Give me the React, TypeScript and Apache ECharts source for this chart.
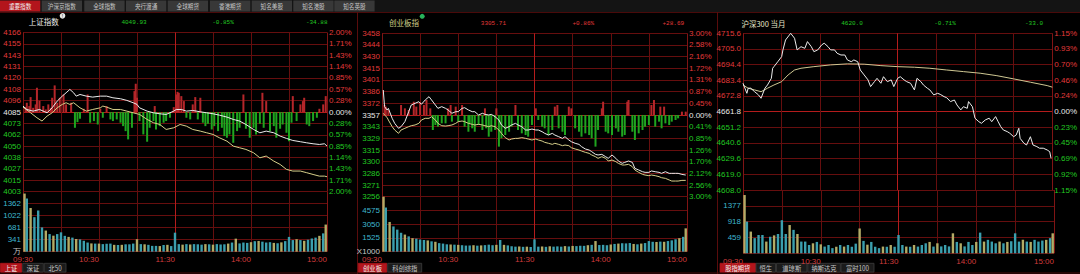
import React, { useEffect, useRef } from "react";
import * as echarts from "echarts";

// ---------- shared ----------
const timeTicks = ["09:30", "", "10:30", "", "11:30", "", "14:00", "", "15:00"];
const topTabs = ["重要指数", "沪深京指数", "全球指数", "央行渡通", "全球期货", "香港期货", "知名美股", "知名港股", "知名英股"];

// ---------- panel 1: 上证指数 ----------
const shPrev = 4084.81;
const shHeader = ["上证指数", "4049.93", "-0.85%", "-34.88"];
const shLeftLabels = ["4166", "4155", "4143", "4131", "4120", "4108", "4096", "4085", "4073", "4062", "4050", "4038", "4027", "4015", "4003"];
const shRightLabels = ["2.00%", "1.71%", "1.43%", "1.14%", "0.85%", "0.57%", "0.28%", "0.00%", "0.28%", "0.57%", "0.85%", "1.14%", "1.43%", "1.71%", "2.00%"];
const shVolLabels = ["万", "341", "681", "1022", "1362", ""];
const shBottomTabs = ["上证", "深证", "北50"];
const shPriceT = [0, 3, 8, 13, 19, 23, 27, 31, 34, 37, 40, 42, 45, 50, 55, 61, 66, 71, 77, 82, 87, 90, 92, 98, 103, 108, 113, 119, 121, 125, 129, 134, 140, 145, 150, 155, 161, 166, 171, 176, 182, 187, 192, 198, 203, 208, 213, 219, 224, 229, 234, 238, 240];
const shPrice = [4091.0, 4087.5, 4085.8, 4087.5, 4084.1, 4089.2, 4096.1, 4101.2, 4104.6, 4108.1, 4104.6, 4101.2, 4102.9, 4101.2, 4100.2, 4101.2, 4101.2, 4099.5, 4098.5, 4096.8, 4094.4, 4092.7, 4089.2, 4085.8, 4084.1, 4083.1, 4082.4, 4085.8, 4087.5, 4087.5, 4085.8, 4086.5, 4085.1, 4084.1, 4083.1, 4081.7, 4079.7, 4077.3, 4075.6, 4072.1, 4067.0, 4063.6, 4065.3, 4063.6, 4060.2, 4057.8, 4055.7, 4054.4, 4053.3, 4052.3, 4051.6, 4052.3, 4050.0];
const shAvgT = [0, 6, 11, 15, 19, 23, 27, 31, 34, 37, 40, 45, 50, 55, 61, 63, 66, 71, 77, 82, 87, 92, 98, 103, 108, 113, 119, 124, 129, 134, 140, 145, 150, 155, 161, 166, 171, 176, 182, 187, 192, 198, 203, 208, 213, 219, 224, 229, 234, 238, 240];
const shAvg = [4089.9, 4084.1, 4079.0, 4075.6, 4080.7, 4084.1, 4089.2, 4092.7, 4094.4, 4092.7, 4094.4, 4089.2, 4085.8, 4087.5, 4089.2, 4091.0, 4089.9, 4087.5, 4087.5, 4085.8, 4084.1, 4082.4, 4077.3, 4073.9, 4072.1, 4067.0, 4068.7, 4072.1, 4070.4, 4067.0, 4065.3, 4063.6, 4061.9, 4058.5, 4055.0, 4049.9, 4048.2, 4046.5, 4043.1, 4037.9, 4039.7, 4034.5, 4031.1, 4026.0, 4024.3, 4024.3, 4022.6, 4020.8, 4019.1, 4019.1, 4018.5];
const shBarT = [2, 3, 5, 6, 8, 10, 11, 13, 16, 18, 20, 22, 23, 25, 27, 29, 32, 34, 38, 41, 43, 45, 48, 51, 53, 56, 59, 61, 63, 66, 69, 71, 74, 77, 79, 81, 83, 86, 88, 89, 90, 92, 95, 98, 100, 103, 104, 105, 108, 111, 113, 116, 119, 121, 122, 123, 125, 127, 129, 132, 134, 136, 138, 140, 142, 144, 146, 149, 151, 154, 157, 159, 161, 163, 166, 169, 171, 174, 176, 179, 182, 184, 187, 189, 190, 192, 195, 198, 200, 203, 205, 208, 210, 212, 213, 216, 219, 221, 222, 224, 226, 229, 232, 234, 237, 239];
const shBar = [5.1, 9.6, 6.2, 15.4, 4.4, 7.9, 25.0, 11.6, 6.2, 2.7, 7.9, 4.4, 14.7, 27.4, 9.6, 14.7, 18.1, 7.9, 9.6, -16.1, -10.3, -6.8, 3.4, 18.1, -10.9, -9.2, -12.7, 3.4, -5.8, 6.2, -7.5, -9.2, -7.5, -10.9, -14.4, -19.5, -28.0, -16.1, 21.5, 29.1, 14.7, -9.2, -22.9, -30.4, -16.1, -9.2, 6.2, -17.8, -14.4, -10.9, -9.2, -5.8, 5.1, 18.1, 20.8, 19.8, 16.4, 11.3, -5.8, -7.5, 7.9, 15.4, -7.5, 14.7, -10.9, -14.4, -12.0, -17.8, -14.4, -19.5, -16.1, -24.6, -26.3, -22.9, -31.5, -19.5, -16.1, 18.1, -17.1, -26.3, -16.1, -22.9, -12.0, 19.8, -16.1, 11.3, -19.5, -14.4, -26.3, -17.1, -12.7, -21.2, -29.8, -10.9, 16.4, -9.2, 7.9, 11.3, 14.7, -12.7, -14.4, -9.2, -5.8, 3.4, 7.9, 16.4];
const shVol = [1650, 1510, 1240, 980, 1170, 690, 600, 500, 455, 500, 550, 450, 420, 400, 360, 350, 310, 260, 235, 230, 230, 215, 225, 230, 195, 190, 195, 210, 210, 230, 355, 215, 210, 195, 165, 165, 160, 190, 195, 160, 540, 215, 200, 215, 205, 215, 210, 200, 215, 210, 200, 215, 205, 210, 230, 260, 370, 235, 260, 250, 270, 300, 305, 285, 260, 270, 250, 240, 265, 300, 420, 330, 355, 330, 310, 340, 375, 400, 450, 520, 770];

// ---------- panel 2: 创业板指 ----------
const cyPrev = 3357;
const cyHeader = ["创业板指", "3305.71", "+0.86%", "+28.69"];
const cyLeftLabels = ["3458", "3444", "3430", "3415", "3401", "3386", "3372", "3357", "3343", "3329", "3315", "3300", "3286", "3271", "3256"];
const cyRightLabels = ["3.00%", "2.58%", "2.16%", "1.72%", "1.31%", "0.87%", "0.45%", "0.00%", "0.41%", "0.85%", "1.26%", "1.70%", "2.12%", "2.56%", "3.00%"];
const cyVolLabels = ["X1000", "1525", "3050", "4575", ""];
const cyBottomTabs = ["创业板", "科创综指"];
const cyT = [1, 2, 4, 5, 8, 10, 13, 15, 18, 21, 23, 26, 29, 31, 34, 37, 39, 42, 44, 47, 50, 52, 55, 58, 60, 63, 65, 68, 71, 73, 76, 79, 81, 84, 86, 89, 92, 94, 97, 100, 102, 105, 107, 110, 113, 115, 118, 121, 123, 126, 128, 131, 134, 136, 139, 142, 144, 147, 149, 152, 155, 157, 160, 163, 165, 168, 170, 173, 176, 178, 181, 184, 186, 189, 191, 194, 197, 199, 202, 205, 207, 210, 212, 215, 218, 220, 223, 226, 228, 231, 233, 236, 239];
const cyPrice = [3387.8, 3367.3, 3363.2, 3365.2, 3352.9, 3346.7, 3340.6, 3342.6, 3348.8, 3361.1, 3369.3, 3371.4, 3373.4, 3370.2, 3375.5, 3379.6, 3375.5, 3369.3, 3365.2, 3367.3, 3365.2, 3363.2, 3359.1, 3361.1, 3361.1, 3365.2, 3366.0, 3363.2, 3361.1, 3361.1, 3357.0, 3359.1, 3357.8, 3357.0, 3357.8, 3354.9, 3350.8, 3344.7, 3340.6, 3342.6, 3344.7, 3346.7, 3344.7, 3342.6, 3338.5, 3338.5, 3339.7, 3338.5, 3338.5, 3336.4, 3334.4, 3332.3, 3334.4, 3332.3, 3330.3, 3328.2, 3330.3, 3326.2, 3324.1, 3322.1, 3320.8, 3318.0, 3315.1, 3313.8, 3311.8, 3308.5, 3307.7, 3308.5, 3305.6, 3303.6, 3307.7, 3303.6, 3300.3, 3297.4, 3298.6, 3300.3, 3298.6, 3291.2, 3289.2, 3287.1, 3286.3, 3286.3, 3288.0, 3287.1, 3286.3, 3285.1, 3287.1, 3285.1, 3285.1, 3285.1, 3285.1, 3283.8, 3283.0];
const cyAvg = [3359.1, 3357.0, 3354.0, 3350.8, 3342.6, 3338.5, 3334.4, 3338.5, 3340.6, 3342.6, 3343.8, 3344.7, 3346.7, 3350.8, 3352.9, 3352.9, 3354.9, 3350.8, 3346.7, 3343.8, 3343.4, 3343.8, 3344.7, 3346.7, 3348.8, 3349.6, 3348.8, 3346.7, 3345.5, 3344.7, 3345.5, 3344.7, 3343.8, 3342.6, 3343.8, 3342.6, 3338.5, 3334.4, 3329.1, 3326.2, 3327.4, 3328.2, 3328.2, 3329.1, 3328.2, 3327.4, 3326.2, 3327.4, 3326.2, 3324.9, 3323.3, 3322.1, 3320.8, 3322.1, 3320.8, 3319.2, 3320.0, 3319.2, 3316.7, 3315.1, 3313.8, 3312.6, 3311.0, 3309.7, 3307.7, 3305.6, 3303.6, 3305.6, 3303.6, 3300.3, 3301.5, 3299.5, 3297.4, 3295.4, 3295.4, 3296.2, 3293.3, 3289.2, 3286.3, 3283.8, 3283.0, 3282.2, 3283.0, 3282.2, 3281.0, 3279.7, 3278.9, 3276.9, 3275.6, 3275.6, 3275.6, 3276.4, 3276.4];
const cyBarT = [2, 3, 5, 15, 18, 21, 25, 27, 30, 33, 35, 38, 40, 42, 44, 47, 50, 52, 54, 55, 58, 60, 63, 65, 68, 69, 71, 73, 76, 79, 81, 82, 84, 86, 89, 90, 92, 94, 97, 100, 102, 105, 107, 110, 113, 115, 118, 121, 123, 126, 128, 131, 134, 136, 138, 139, 142, 144, 147, 149, 152, 155, 157, 160, 163, 165, 168, 170, 173, 174, 176, 178, 181, 184, 186, 189, 191, 193, 194, 197, 199, 202, 205, 207, 210, 212, 214, 215, 218, 219, 220, 222, 223, 226, 228, 231, 233, 236, 239];
const cyBar = [12.3, 10.3, 6.2, 12.3, 8.2, 6.2, 16.4, 10.3, 15.6, 12.3, 18.5, 8.2, -18.5, -12.3, -14.4, -10.3, -10.3, 8.2, 12.3, -8.2, 10.3, -8.2, 12.3, -14.4, -20.6, -10.3, -16.4, -20.6, -12.3, -18.5, 8.2, -16.4, -26.7, -20.6, -18.5, 8.2, -39.0, -28.8, -24.7, -20.6, -14.4, 12.3, -18.5, -22.6, -24.7, -26.7, -12.3, 8.2, -6.2, -14.4, -16.4, -24.7, -18.5, 10.3, 12.3, -16.4, -20.6, -24.7, 10.3, 8.2, -16.4, -20.6, -26.7, -22.6, -24.7, -28.8, -39.0, -18.5, 8.2, 16.4, -20.6, -22.6, -24.7, -16.4, -20.6, -26.7, -24.7, 16.4, 18.5, -20.6, -30.8, -22.6, -18.5, -14.4, -12.3, 12.3, 18.5, -14.4, -8.2, 10.3, -16.4, 10.3, -10.3, -12.3, -8.2, -6.2, -4.1, 4.1, 4.1];
const cyVol = [6100, 4900, 3300, 2800, 2450, 2100, 1900, 1700, 1500, 1450, 1350, 1300, 1250, 1150, 1100, 950, 900, 820, 800, 780, 760, 720, 680, 690, 720, 670, 700, 730, 780, 720, 760, 1300, 760, 700, 600, 560, 580, 540, 560, 520, 1370, 560, 580, 540, 600, 560, 590, 560, 620, 580, 640, 620, 660, 650, 720, 760, 1180, 740, 760, 720, 800, 860, 900, 940, 920, 960, 860, 820, 900, 960, 1180, 1100, 1080, 1120, 1100, 1180, 1260, 1380, 1500, 1650, 2590];

// ---------- panel 3: 沪深300 当月 ----------
const ifPrev = 4661.8;
const ifHeader = ["沪深300 当月", "4620.0", "-0.71%", "-33.0"];
const ifLeftLabels = ["4715.6", "4705.0", "4694.4", "4683.4", "4672.8", "4661.8", "4651.2", "4640.6", "4629.6", "4619.0", "4608.0"];
const ifRightLabels = ["1.15%", "0.93%", "0.70%", "0.46%", "0.24%", "0.00%", "0.23%", "0.45%", "0.69%", "0.92%", "1.15%"];
const ifVolLabels = ["", "459", "918", "1377", ""];
const ifBottomTabs = ["股指期货", "恒生", "道琼斯", "纳斯达克", "富时100"];
const ifT = [0, 3, 4, 6, 9, 12, 14, 17, 19, 22, 23, 24, 27, 30, 31, 33, 37, 40, 42, 45, 48, 50, 53, 55, 58, 61, 63, 66, 68, 71, 73, 76, 79, 81, 84, 86, 89, 91, 94, 97, 99, 102, 104, 107, 109, 112, 115, 117, 120, 122, 125, 127, 130, 133, 135, 138, 140, 143, 145, 148, 151, 153, 156, 158, 161, 164, 166, 169, 171, 174, 175, 178, 180, 183, 185, 188, 191, 193, 196, 198, 200, 202, 205, 207, 210, 212, 214, 215, 218, 220, 223, 225, 228, 230, 233, 236, 238, 239];
const ifPrice = [4681.3, 4674.4, 4677.9, 4677.9, 4675.5, 4673.3, 4671.0, 4677.9, 4680.1, 4684.7, 4691.6, 4692.7, 4696.1, 4699.6, 4704.2, 4711.0, 4715.6, 4712.2, 4704.2, 4706.4, 4705.3, 4709.9, 4706.4, 4703.0, 4704.2, 4707.6, 4708.8, 4706.4, 4704.2, 4704.2, 4701.9, 4700.7, 4700.7, 4697.3, 4696.1, 4697.3, 4696.1, 4690.4, 4687.0, 4683.6, 4679.0, 4682.4, 4684.7, 4681.3, 4685.8, 4682.4, 4683.6, 4679.0, 4684.7, 4685.8, 4683.6, 4682.4, 4681.3, 4676.7, 4684.7, 4682.4, 4680.1, 4677.9, 4676.7, 4673.3, 4674.4, 4673.7, 4672.1, 4671.4, 4668.7, 4669.8, 4666.4, 4663.0, 4665.2, 4664.1, 4668.7, 4665.2, 4657.3, 4654.9, 4653.8, 4656.1, 4657.3, 4654.9, 4658.4, 4654.9, 4651.5, 4649.2, 4648.1, 4647.0, 4644.6, 4645.8, 4650.4, 4643.5, 4640.1, 4638.9, 4644.6, 4638.9, 4637.8, 4636.7, 4636.7, 4635.5, 4634.3, 4629.8];
const ifAvgT = [0, 4, 9, 14, 19, 24, 30, 35, 40, 45, 55, 68, 81, 94, 107, 120, 133, 145, 158, 171, 184, 197, 210, 223, 236, 240];
const ifAvg = [4680.1, 4677.9, 4676.7, 4675.5, 4677.9, 4680.1, 4682.4, 4687.0, 4690.4, 4691.6, 4692.7, 4693.9, 4694.6, 4694.4, 4693.4, 4692.7, 4692.3, 4691.6, 4690.4, 4689.3, 4688.2, 4686.5, 4684.3, 4682.0, 4679.7, 4678.6];
const ifVol = [1690, 920, 630, 440, 530, 530, 340, 480, 520, 560, 960, 560, 820, 680, 560, 340, 340, 240, 290, 330, 260, 195, 240, 150, 190, 240, 195, 240, 190, 280, 720, 360, 250, 330, 190, 150, 195, 190, 240, 190, 530, 240, 195, 190, 240, 195, 240, 290, 330, 195, 290, 200, 240, 200, 580, 330, 290, 200, 330, 240, 330, 600, 340, 390, 340, 290, 340, 290, 330, 350, 580, 340, 390, 340, 330, 390, 340, 370, 390, 440, 580];

// ---------- styling ----------
const FONT = '"Liberation Sans Narrow","Liberation Sans",Arial,sans-serif';
const CJK = '"Noto Sans CJK SC","Noto Sans",sans-serif';
const MONO = '"Liberation Mono","DejaVu Sans Mono",monospace';
const RED = "#e23a3a";
const GREEN = "#22c822";
const WHITE = "#e8e8e8";
const CYAN = "#3fb6cf";
const GRID = "#660e0e";
const GRID_EDGE = "#801414";
const GRID_HI = "#b41c1c";
const BAR_RED = "#b5262a";
const BAR_GREEN = "#1fa51f";
const VOL_Y = "#b3ab66";
const VOL_C = "#3b9fae";

type PanelCfg = {
  left: number; width: number; top: number; priceH: number; volH: number;
  half: number; prev: number; step: number;
  leftLabels: string[]; rightLabels: string[];
  volMax: number; volInterval: number; volLabels: string[];
  minAlign: string;
  lines: { t: number[]; v: number[]; color: string }[];
  barT: number[] | null; bar: number[] | null;
  vol: number[];
};

const panels: PanelCfg[] = [
  {
    left: 23, width: 304, top: 32.5, priceH: 159.2, volH: 60, half: 7, prev: shPrev, step: (shPrev * 0.02) / 7,
    leftLabels: shLeftLabels, rightLabels: shRightLabels, volMax: 1703, volInterval: 340.6, volLabels: shVolLabels,
    minAlign: "center",
    lines: [{ t: shAvgT, v: shAvg, color: "#d6cf8a" }, { t: shPriceT, v: shPrice, color: "#ececec" }],
    barT: shBarT, bar: shBar, vol: shVol,
  },
  {
    left: 382, width: 305, top: 33.3, priceH: 163.4, volH: 55, half: 7, prev: cyPrev, step: (cyPrev * 0.03) / 7,
    leftLabels: cyLeftLabels, rightLabels: cyRightLabels, volMax: 6100, volInterval: 1525, volLabels: cyVolLabels,
    minAlign: "right",
    lines: [{ t: cyT, v: cyAvg, color: "#d6cf8a" }, { t: cyT, v: cyPrice, color: "#ececec" }],
    barT: cyBarT, bar: cyBar, vol: cyVol,
  },
  {
    left: 743, width: 311, top: 33.3, priceH: 156.7, volH: 63.3, half: 5, prev: ifPrev, step: 10.76,
    leftLabels: ifLeftLabels, rightLabels: ifRightLabels, volMax: 1836, volInterval: 459, volLabels: ifVolLabels,
    minAlign: "right",
    lines: [{ t: ifAvgT, v: ifAvg, color: "#cfc893" }, { t: ifT, v: ifPrice, color: "#ececec" }],
    barT: null, bar: null, vol: ifVol,
  },
];

function signColor(v: any) {
  const n = Number(v);
  return n > 0.001 ? RED : n < -0.001 ? GREEN : WHITE;
}

function buildOption() {
  const grid: any[] = [];
  const xAxis: any[] = [];
  const yAxis: any[] = [];
  const series: any[] = [];
  const vColors = [GRID_EDGE, GRID, GRID, GRID, GRID_HI, GRID, GRID, GRID, GRID_EDGE];

  panels.forEach((p) => {
    const gPrice = grid.length;
    grid.push({ left: p.left, top: p.top, width: p.width, height: p.priceH });
    const gVol = grid.length;
    grid.push({ left: p.left, top: p.top + p.priceH, width: p.width, height: p.volH });

    const xBase = {
      type: "value", min: 0, max: 240, interval: 30,
      axisLine: { show: false }, axisTick: { show: false },
      splitLine: { show: true, lineStyle: { color: vColors, width: 1 } },
    };
    const xPrice = xAxis.length;
    xAxis.push({ ...xBase, gridIndex: gPrice, axisLabel: { show: false } });
    const xVol = xAxis.length;
    xAxis.push({
      ...xBase, gridIndex: gVol,
      axisLabel: {
        show: true, color: "#d23c3c", fontSize: 8, fontFamily: FONT, margin: 4, align: "right",
        alignMinLabel: p.minAlign, alignMaxLabel: "right", hideOverlap: false,
        formatter: (v: number) => timeTicks[Math.round(v / 30)] ?? "",
      },
    });

    const n = p.half * 2 + 1;
    const hColors = Array.from({ length: n }, (_, i) => (i === 0 ? GRID_HI : i === p.half ? GRID_HI : GRID));
    const yLeft = yAxis.length;
    yAxis.push({
      type: "value", gridIndex: gPrice, position: "left", min: -p.half, max: p.half, interval: 1,
      axisLine: { show: false }, axisTick: { show: false },
      splitLine: { show: true, lineStyle: { color: hColors, width: 1 } },
      axisLabel: {
        fontSize: 8, fontFamily: FONT, margin: 2, color: signColor,
        formatter: (v: number) => p.leftLabels[p.half - Math.round(v)] ?? "",
      },
    });
    yAxis.push({
      type: "value", gridIndex: gPrice, position: "right", min: -p.half, max: p.half, interval: 1,
      axisLine: { show: false }, axisTick: { show: false }, splitLine: { show: false },
      axisLabel: {
        fontSize: 8, fontFamily: FONT, margin: 2, color: signColor,
        formatter: (v: number) => p.rightLabels[p.half - Math.round(v)] ?? "",
      },
    });
    const yVol = yAxis.length;
    yAxis.push({
      type: "value", gridIndex: gVol, position: "left", min: 0, max: p.volMax, interval: p.volInterval,
      axisLine: { show: false }, axisTick: { show: false },
      splitLine: { show: true, lineStyle: { color: GRID, width: 1 } },
      axisLabel: {
        fontSize: 8, fontFamily: FONT, margin: 2,
        color: (v: any) => (Number(v) < 1 ? "#c8c8c8" : CYAN),
        formatter: (v: number) => p.volLabels[Math.round(v / p.volInterval)] ?? "",
      },
    });

    const norm = (price: number) => (price - p.prev) / p.step;

    if (p.barT && p.bar) {
      const bt = p.barT;
      series.push({
        type: "bar", xAxisIndex: xPrice, yAxisIndex: yLeft, barWidth: 2, z: 1, silent: true,
        data: p.bar.map((v, i) => [bt[i], v / p.step]),
        itemStyle: { color: (d: any) => (d.value[1] >= 0 ? BAR_RED : BAR_GREEN) },
      });
    }
    p.lines.forEach((l) => {
      series.push({
        type: "line", xAxisIndex: xPrice, yAxisIndex: yLeft, symbol: "none", showSymbol: false, z: 3, silent: true,
        data: l.t.map((t, i) => [t, norm(l.v[i])]),
        lineStyle: { width: 1, color: l.color },
      });
    });
    series.push({
      type: "bar", xAxisIndex: xVol, yAxisIndex: yVol, barWidth: 2.4, silent: true,
      data: p.vol.map((v, i) => [Math.min(239, Math.max(1.2, i * 3)), v]),
      itemStyle: { color: (d: any) => (d.dataIndex % 3 === 1 ? VOL_C : d.dataIndex % 2 === 0 ? VOL_Y : VOL_C) },
    });
  });

  // ---------- graphics ----------
  const g: any[] = [];
  g.push({ type: "rect", shape: { x: 0, y: 0, width: 1080, height: 12 }, style: { fill: "#141414" }, silent: true });
  const tabX = [0, 41.7, 84.3, 126, 167.7, 210, 251.7, 293.3, 334.3];
  topTabs.forEach((name, i) => {
    g.push({ type: "rect", shape: { x: tabX[i], y: 0.5, width: 40.3, height: 11 }, style: { fill: i === 0 ? "#b3151c" : "#383838" }, silent: true });
    g.push({
      type: "text", x: tabX[i] + 20.1, y: 6.2, scaleX: 0.8, silent: true,
      style: { text: name, fill: i === 0 ? "#f0f0f0" : "#c4c4c4", fontSize: 7, fontFamily: CJK, align: "center", verticalAlign: "middle" },
    });
  });
  // panel frames
  g.push({ type: "line", shape: { x1: 0, y1: 12.5, x2: 1080, y2: 12.5 }, style: { stroke: "#4a0a0a", lineWidth: 1 }, silent: true });
  g.push({ type: "line", shape: { x1: 357.5, y1: 12, x2: 357.5, y2: 274 }, style: { stroke: "#5a0c0c", lineWidth: 1 }, silent: true });
  g.push({ type: "line", shape: { x1: 717.5, y1: 12, x2: 717.5, y2: 274 }, style: { stroke: "#5a0c0c", lineWidth: 1 }, silent: true });
  g.push({ type: "line", shape: { x1: 0, y1: 273, x2: 1080, y2: 273 }, style: { stroke: "#4a0a0a", lineWidth: 1 }, silent: true });

  const header = (names: string[], xs: number[], y: number, nameColor: string, numColor: string) => {
    g.push({
      type: "text", x: xs[0], y, silent: true,
      style: { text: names[0], fill: nameColor, fontSize: 7.5, fontFamily: CJK, align: "center", verticalAlign: "middle" },
    });
    for (let i = 1; i < 4; i++) {
      g.push({
        type: "text", x: xs[i], y: y + 0.5, silent: true,
        style: { text: names[i], fill: numColor, fontSize: 6, fontFamily: MONO, align: "center", verticalAlign: "middle" },
      });
    }
  };
  header(shHeader, [43.7, 134, 223, 316.7], 21.7, "#ececec", GREEN);
  header(cyHeader, [404, 493.4, 583.3, 673.3], 22.8, "#cfd08a", RED);
  header(ifHeader, [763.5, 852, 945, 1034], 23, "#e6e6c8", GREEN);
  g.push({ type: "circle", shape: { cx: 62.5, cy: 15.8, r: 2.8 }, style: { fill: "#e8e8e8" }, silent: true });
  g.push({ type: "text", x: 62.5, y: 16, silent: true, style: { text: "!", fill: "#222", fontSize: 5, fontFamily: FONT, align: "center", verticalAlign: "middle" } });
  g.push({ type: "circle", shape: { cx: 422.2, cy: 16.3, r: 2.5 }, style: { fill: "#27b35a" }, silent: true });

  const bottomTabs = (names: string[], xs: number[], ws: number[]) => {
    names.forEach((name, i) => {
      g.push({
        type: "rect", shape: { x: xs[i], y: 263.3, width: ws[i], height: 8.8 },
        style: { fill: i === 0 ? "#b3151c" : "#1b1b1b", stroke: i === 0 ? "#b3151c" : "#3c3c3c", lineWidth: 0.8 }, silent: true,
      });
      g.push({
        type: "text", x: xs[i] + ws[i] / 2, y: 267.8, scaleX: 0.9, silent: true,
        style: { text: name, fill: i === 0 ? "#f2f2f2" : "#c8c8c8", fontSize: 7, fontFamily: CJK, align: "center", verticalAlign: "middle" },
      });
    });
  };
  bottomTabs(shBottomTabs, [0.5, 22.7, 44.3], [21.2, 20.6, 21.7]);
  bottomTabs(cyBottomTabs, [358.3, 387.7], [28.4, 34]);
  bottomTabs(ifBottomTabs, [720, 756, 776.5, 807.8, 841], [35.5, 19.5, 30.5, 32.5, 33]);

  return {
    animation: false,
    backgroundColor: "#000",
    textStyle: { fontFamily: FONT },
    grid, xAxis, yAxis, series,
    graphic: g,
  };
}

export default function App() {
  const ref = useRef<HTMLDivElement>(null);
  useEffect(() => {
    document.body.style.margin = "0";
    document.body.style.background = "#000";
    const chart = echarts.init(ref.current!, null, { renderer: "svg" });
    chart.setOption(buildOption() as any);
    return () => chart.dispose();
  }, []);
  return <div ref={ref} style={{ width: 1080, height: 274, background: "#000" }} />;
}
